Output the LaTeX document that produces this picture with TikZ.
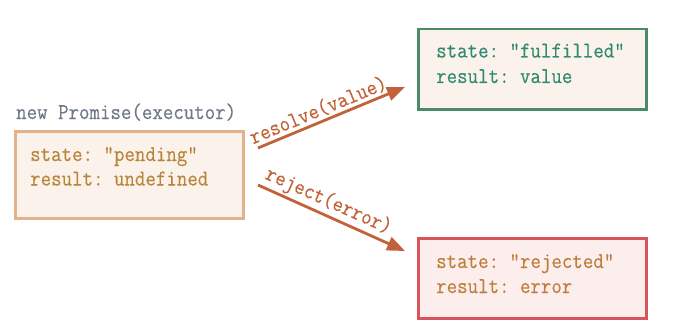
\documentclass[tikz,border=0pt]{standalone}
\usepackage{fontspec}
\setmonofont{Latin Modern Mono}[FakeStretch=0.9,FakeBold=0.3]
\usetikzlibrary{arrows.meta}
\definecolor{pendfill}{HTML}{FBF2EB}
\definecolor{penddraw}{HTML}{E2B38A}
\definecolor{pendtext}{HTML}{B8863A}
\definecolor{fulfill}{HTML}{FBF2EB}
\definecolor{fuldraw}{HTML}{4A8A68}
\definecolor{fultext}{HTML}{2F8A70}
\definecolor{rejfill}{HTML}{FDEEEE}
\definecolor{rejdraw}{HTML}{D9545A}
\definecolor{rejtext}{HTML}{C07E3C}
\definecolor{arrowc}{HTML}{C2623A}
\definecolor{labc}{HTML}{C2623A}
\definecolor{captc}{HTML}{6F7888}
\begin{document}
\begin{tikzpicture}[x=1pt,y=-1pt,
  every node/.style={font=\ttfamily\fontsize{22.6}{25}\selectfont},
  statebox/.style={line width=2.5pt, minimum width=228pt, minimum height=80pt, anchor=north west, inner sep=0pt},
  boxtext/.style={anchor=base west, inner sep=0pt},
  trans/.style={draw=arrowc, line width=2.8pt, -{Triangle[length=18pt,width=14pt]}},
  translab/.style={text=labc, sloped, above, inner sep=2pt}]
\useasboundingbox (0,0) rectangle (675,329);
\node[statebox, draw=penddraw, fill=pendfill, minimum height=87pt] (pend) at (14,130) {};
\node[statebox, draw=fuldraw, fill=fulfill] (ful) at (417,28) {};
\node[statebox, draw=rejdraw, fill=rejfill] (rej) at (417,237) {};
\node[boxtext, text=captc] (capt) at (16,119) {new Promise(executor)};
\node[boxtext, text=pendtext] (pend1) at (30,161) {state: "pending"};
\node[boxtext, text=pendtext] (pend2) at (30,185.5) {result: undefined};
\node[boxtext, text=fultext] (ful1) at (436,57.5) {state: "fulfilled"};
\node[boxtext, text=fultext] (ful2) at (436,83) {result: value};
\node[boxtext, text=rejtext] (rej1) at (436,268) {state: "rejected"};
\node[boxtext, text=rejtext] (rej2) at (436,293) {result: error};
\coordinate (a1s) at (258,148);
\coordinate (a1e) at (405,87);
\coordinate (a2s) at (258,185);
\coordinate (a2e) at (405,251);
\draw[trans] (a1s) -- node[translab, pos=0.44] {resolve(value)} (a1e);
\draw[trans] (a2s) -- node[translab, pos=0.44] {reject(error)} (a2e);
\end{tikzpicture}
\end{document}
